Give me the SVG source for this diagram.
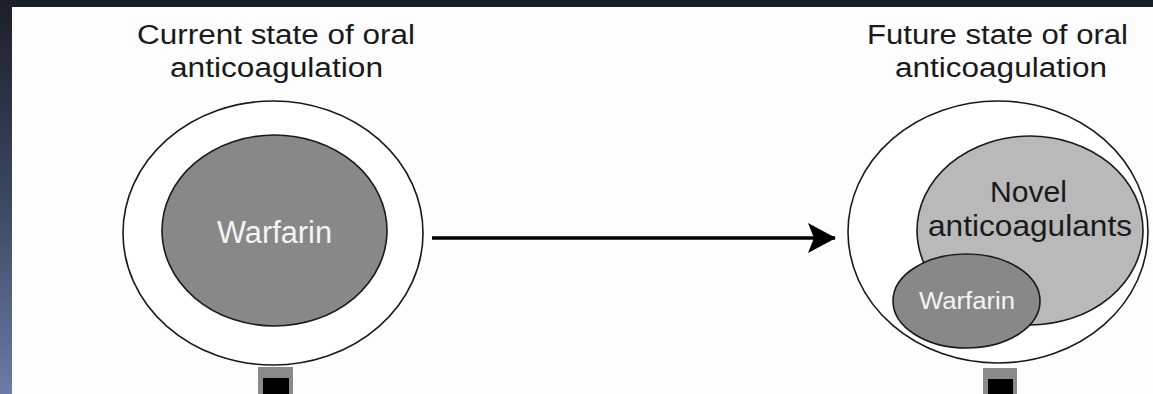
<svg xmlns="http://www.w3.org/2000/svg" width="1153" height="394" viewBox="0 0 1153 394">
<defs>
<linearGradient id="side" x1="0" y1="0" x2="0" y2="1">
<stop offset="0" stop-color="#1b1f2a"/>
<stop offset="0.5" stop-color="#3b4660"/>
<stop offset="1" stop-color="#6b7ba6"/>
</linearGradient>
<marker id="arrow" viewBox="0 0 28 30" refX="27" refY="15" markerWidth="28" markerHeight="30" markerUnits="userSpaceOnUse" orient="auto">
<path d="M0,0 L28,15 L0,30 L6,15 Z" fill="#000"/>
</marker>
</defs>
<style>
.title{font-family:"Liberation Sans",Arial,sans-serif;font-size:27px;fill:#1a1a1a;text-anchor:middle}
.outer{fill:#fff;stroke:#1a1a1a;stroke-width:1.6}
.dark{fill:#888;stroke:#1a1a1a;stroke-width:1.6}
.light{fill:#b9b9b9;stroke:#1a1a1a;stroke-width:1.6}
.wt{font-family:"Liberation Sans",Arial,sans-serif;fill:#f4f4f4;text-anchor:middle}
.bt{font-family:"Liberation Sans",Arial,sans-serif;fill:#1a1a1a;text-anchor:middle}
</style>
<rect x="0" y="0" width="1153" height="394" fill="#1b1f2a"/>
<rect x="0" y="0" width="12" height="394" fill="url(#side)"/>
<rect x="12" y="7" width="1141" height="387" fill="#fdfdfd"/>

<g id="title-current">
<text class="title" x="276" y="44" textLength="278" lengthAdjust="spacingAndGlyphs">Current state of oral</text>
<text class="title" x="276.5" y="77" textLength="213" lengthAdjust="spacingAndGlyphs">anticoagulation</text>
</g>
<g id="title-future">
<text class="title" x="997.5" y="44" textLength="261" lengthAdjust="spacingAndGlyphs">Future state of oral</text>
<text class="title" x="1001" y="77" textLength="212" lengthAdjust="spacingAndGlyphs">anticoagulation</text>
</g>

<g id="current">
<ellipse class="outer" cx="273" cy="233" rx="150" ry="132"/>
<ellipse class="dark" cx="274.5" cy="230.5" rx="112.5" ry="95.5"/>
<text class="wt" x="274.5" y="243" font-size="31" textLength="115" lengthAdjust="spacingAndGlyphs">Warfarin</text>
</g>

<g id="future">
<ellipse class="outer" cx="998" cy="232" rx="150" ry="131"/>
<ellipse class="light" cx="1030" cy="230.5" rx="113" ry="94.5"/>
<text class="bt" x="1028.5" y="202" font-size="29" textLength="77" lengthAdjust="spacingAndGlyphs">Novel</text>
<text class="bt" x="1030" y="236" font-size="29" textLength="204" lengthAdjust="spacingAndGlyphs">anticoagulants</text>
<ellipse class="dark" cx="966.5" cy="301" rx="73.5" ry="47"/>
<text class="wt" x="967" y="309" font-size="23" textLength="96" lengthAdjust="spacingAndGlyphs">Warfarin</text>
</g>

<g id="connectors">
<line x1="432" y1="238" x2="835" y2="238" stroke="#000" stroke-width="3.5" marker-end="url(#arrow)"/>
</g>

<g id="stubs">
<rect x="258" y="367" width="35" height="27" fill="#8a8a8a"/>
<rect x="263" y="378" width="26" height="16" fill="#000"/>
<rect x="983" y="368" width="34" height="26" fill="#8a8a8a"/>
<rect x="988" y="379" width="25" height="15" fill="#000"/>
</g>
</svg>
